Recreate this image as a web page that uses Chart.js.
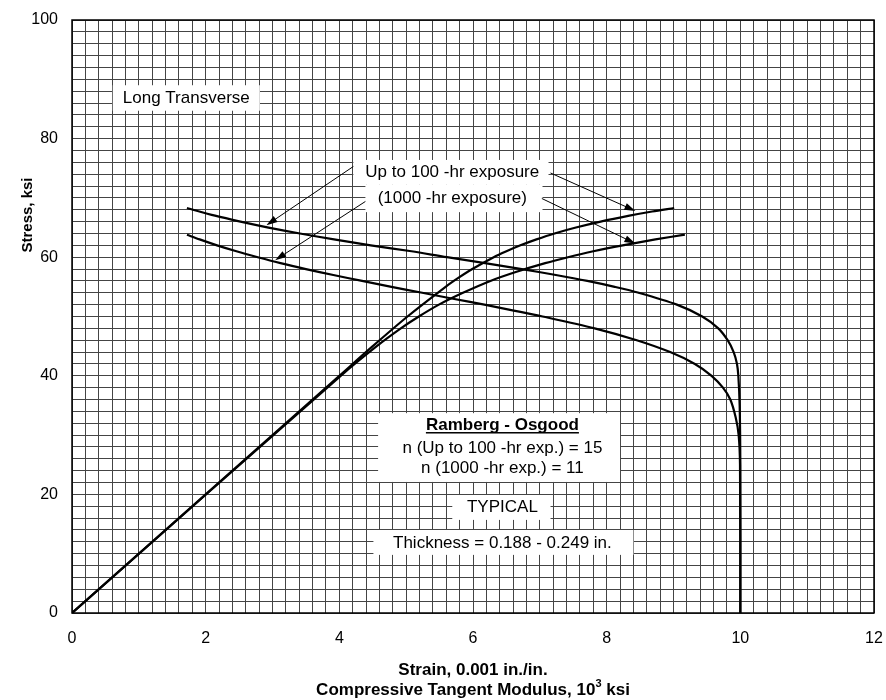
<!DOCTYPE html>
<html>
<head>
<meta charset="utf-8">
<title>Compressive stress-strain and tangent modulus</title>
<script src="https://cdn.jsdelivr.net/npm/chart.js@4.4.1/dist/chart.umd.min.js"></script>
<style>
  html, body { margin: 0; padding: 0; background: #fff; }
  #wrap { width: 886px; height: 700px; }
</style>
</head>
<body>
<div id="wrap"><canvas id="chart" width="886" height="700"></canvas></div>
<script>
// tick labels shown on the axes (grid runs every 0.2 / 2)
const xTickLabels = [0, 2, 4, 6, 8, 10, 12];
const yTickLabels = [0, 20, 40, 60, 80, 100];

// stress-strain, up to 100-hr exposure
const ssUpStrain = [0, 4.0, 4.5, 5.02, 5.59, 5.78, 5.99, 6.31, 6.5, 6.71, 6.95, 7.22, 7.54, 7.91, 8.34, 8.68, 9.01];
const ssUpStress = [0, 40, 45, 50, 55, 56.5, 58, 60, 61, 62, 63, 64, 65, 66, 67, 67.7, 68.3];

// stress-strain, 1000-hr exposure
const ssLowStrain = [0, 4.02, 4.56, 4.92, 5.19, 5.49, 5.85, 6.26, 6.64, 7.08, 7.42, 7.80, 8.24, 8.73, 9.17];
const ssLowStress = [0, 40, 45, 48, 50, 52, 54, 56, 57.5, 59, 60, 61, 62, 63, 63.8];

// tangent modulus, up to 100-hr exposure
const tmUpModulus = [1.72, 2.14, 2.52, 2.94, 3.41, 3.92, 4.47, 5.08, 5.61, 6.18, 6.73, 7.24, 7.71, 8.12, 8.48, 9.05, 9.43, 9.67, 9.81, 9.90, 9.95, 9.97, 9.99, 10, 10];
const tmUpStress = [68.3, 67, 66, 65, 64, 63, 62, 61, 60, 59, 58, 57, 56, 55, 54, 52, 50, 48, 46, 44, 42, 40, 35, 25, 0];

// tangent modulus, 1000-hr exposure
const tmLowModulus = [1.72, 1.91, 2.17, 2.46, 2.78, 3.12, 3.50, 3.91, 4.34, 4.78, 5.24, 5.70, 6.17, 6.61, 7.04, 7.82, 8.45, 8.95, 9.32, 9.57, 9.74, 9.85, 9.93, 9.975, 9.995, 10];
const tmLowStress = [63.8, 63, 62, 61, 60, 59, 58, 57, 56, 55, 54, 53, 52, 51, 50, 48, 46, 44, 42, 40, 38, 36, 33, 30, 25, 0];

const FONT = '"Liberation Sans", Arial, Helvetica, sans-serif';

// white label boxes, in data units
const noteBoxes = [
  { x0: 0.61, x1: 2.81, y0: 89.0, y1: 84.7 },
  { x0: 4.21, x1: 7.13, y0: 76.4, y1: 72.2 },
  { x0: 4.39, x1: 7.04, y0: 72.2, y1: 67.6 },
  { x0: 4.58, x1: 8.20, y0: 33.7, y1: 22.1 },
  { x0: 5.69, x1: 7.16, y0: 19.9, y1: 15.7 },
  { x0: 4.51, x1: 8.40, y0: 14.0, y1: 9.8 }
];

const noteTexts = [
  { text: 'Long Transverse', x: 1.71, y: 86.8 },
  { text: 'Up to 100 -hr exposure', x: 5.69, y: 74.25 },
  { text: '(1000 -hr exposure)', x: 5.69, y: 69.9 },
  { text: 'Ramberg - Osgood', x: 6.44, y: 31.7, bold: true, underline: true },
  { text: 'n (Up to 100 -hr exp.) = 15', x: 6.44, y: 27.8 },
  { text: 'n (1000 -hr exp.) = 11', x: 6.44, y: 24.45 },
  { text: 'TYPICAL', x: 6.44, y: 17.9 },
  { text: 'Thickness = 0.188 - 0.249 in.', x: 6.44, y: 11.8 }
];

const leaders = [
  { from: [4.21, 75.3], to: [2.91, 65.4] },
  { from: [4.39, 69.4], to: [3.04, 59.5] },
  { from: [7.16, 74.2], to: [8.43, 67.8] },
  { from: [7.03, 69.9], to: [8.43, 62.3] }
];

function toPoints(xs, ys) {
  return xs.map((x, i) => ({ x, y: ys[i] }));
}

function curve(label, xs, ys) {
  return {
    label,
    data: toPoints(xs, ys),
    showLine: true,
    borderColor: '#000',
    borderWidth: 2.2,
    pointRadius: 0,
    tension: 0.3,
    fill: false
  };
}

const notesPlugin = {
  id: 'notes',
  afterDatasetsDraw(chart) {
    const { ctx, scales: { x, y } } = chart;
    ctx.save();

    noteBoxes.forEach((b) => {
      const left = x.getPixelForValue(b.x0);
      const right = x.getPixelForValue(b.x1);
      const top = y.getPixelForValue(b.y0);
      const bottom = y.getPixelForValue(b.y1);
      ctx.fillStyle = '#fff';
      ctx.fillRect(left, top, right - left, bottom - top);
    });

    ctx.fillStyle = '#000';
    ctx.textAlign = 'center';
    ctx.textBaseline = 'middle';
    noteTexts.forEach((t) => {
      ctx.font = (t.bold ? 'bold ' : '') + '17px ' + FONT;
      const px = x.getPixelForValue(t.x);
      const py = y.getPixelForValue(t.y);
      ctx.fillText(t.text, px, py);
      if (t.underline) {
        const w = ctx.measureText(t.text).width;
        ctx.fillRect(px - w / 2, py + 7, w, 1.5);
      }
    });

    ctx.strokeStyle = '#000';
    ctx.lineWidth = 1;
    leaders.forEach((l) => {
      const fx = x.getPixelForValue(l.from[0]);
      const fy = y.getPixelForValue(l.from[1]);
      const tx = x.getPixelForValue(l.to[0]);
      const ty = y.getPixelForValue(l.to[1]);
      const ang = Math.atan2(ty - fy, tx - fx);
      const len = 11;
      const half = 3.5;
      ctx.beginPath();
      ctx.moveTo(fx, fy);
      ctx.lineTo(tx - Math.cos(ang) * len * 0.6, ty - Math.sin(ang) * len * 0.6);
      ctx.stroke();
      const bx = tx - Math.cos(ang) * len;
      const by = ty - Math.sin(ang) * len;
      ctx.beginPath();
      ctx.moveTo(tx, ty);
      ctx.lineTo(bx - Math.sin(ang) * half, by + Math.cos(ang) * half);
      ctx.lineTo(bx + Math.sin(ang) * half, by - Math.cos(ang) * half);
      ctx.closePath();
      ctx.fill();
    });

    ctx.restore();
  },
  afterDraw(chart) {
    const { ctx, chartArea } = chart;
    ctx.save();
    // frame round the plot
    ctx.strokeStyle = '#000';
    ctx.lineWidth = 1.5;
    ctx.strokeRect(chartArea.left, chartArea.top, chartArea.right - chartArea.left, chartArea.bottom - chartArea.top);

    ctx.fillStyle = '#000';
    ctx.textBaseline = 'middle';
    const cx = (chartArea.left + chartArea.right) / 2;

    ctx.font = 'bold 17px ' + FONT;
    ctx.textAlign = 'center';
    ctx.fillText('Strain, 0.001 in./in.', cx, chartArea.bottom + 57);

    // second title line with superscript 3
    const partA = 'Compressive Tangent Modulus, 10';
    const partB = ' ksi';
    const wA = ctx.measureText(partA).width;
    const wB = ctx.measureText(partB).width;
    ctx.font = 'bold 11px ' + FONT;
    const wS = ctx.measureText('3').width;
    const startX = cx - (wA + wS + wB) / 2;
    const lineY = chartArea.bottom + 77;
    ctx.textAlign = 'left';
    ctx.fillText('3', startX + wA, lineY - 6);
    ctx.font = 'bold 17px ' + FONT;
    ctx.fillText(partA, startX, lineY);
    ctx.fillText(partB, startX + wA + wS, lineY);

    ctx.translate(chartArea.left - 44, chartArea.top + 195);
    ctx.rotate(-Math.PI / 2);
    ctx.textAlign = 'center';
    ctx.font = 'bold 15px ' + FONT;
    ctx.fillText('Stress, ksi', 0, 0);
    ctx.restore();
  }
};

function isLabelled(value, list) {
  return list.some((v) => Math.abs(v - value) < 1e-6);
}

new Chart(document.getElementById('chart'), {
  type: 'scatter',
  data: {
    datasets: [
      curve('Stress-strain, up to 100-hr', ssUpStrain, ssUpStress),
      curve('Stress-strain, 1000-hr', ssLowStrain, ssLowStress),
      curve('Tangent modulus, up to 100-hr', tmUpModulus, tmUpStress),
      curve('Tangent modulus, 1000-hr', tmLowModulus, tmLowStress)
    ]
  },
  options: {
    responsive: false,
    animation: false,
    layout: { padding: { top: 20, right: 12, left: 0, bottom: 0 } },
    plugins: {
      legend: { display: false },
      tooltip: { enabled: false }
    },
    scales: {
      x: {
        type: 'linear',
        min: 0,
        max: 12,
        afterFit: (scale) => {
          scale.height = 87;
          scale.paddingLeft = 0;
          scale.paddingRight = 0;
        },
        grid: { color: '#444', lineWidth: 1, drawTicks: false },
        border: { display: false },
        ticks: {
          stepSize: 0.2,
          autoSkip: false,
          maxTicksLimit: 200,
          maxRotation: 0,
          padding: 16,
          color: '#000',
          font: { family: FONT, size: 16 },
          callback: (v) => (isLabelled(v, xTickLabels) ? Math.round(v) : '')
        }
      },
      y: {
        type: 'linear',
        min: 0,
        max: 100,
        afterFit: (scale) => {
          scale.width = 72;
          scale.paddingTop = 0;
          scale.paddingBottom = 0;
        },
        grid: { color: '#444', lineWidth: 1, drawTicks: false },
        border: { display: false },
        ticks: {
          stepSize: 2,
          autoSkip: false,
          maxTicksLimit: 200,
          padding: 14,
          color: '#000',
          font: { family: FONT, size: 16 },
          callback: (v) => (isLabelled(v, yTickLabels) ? v : '')
        }
      }
    }
  },
  plugins: [notesPlugin]
});
</script>
</body>
</html>
